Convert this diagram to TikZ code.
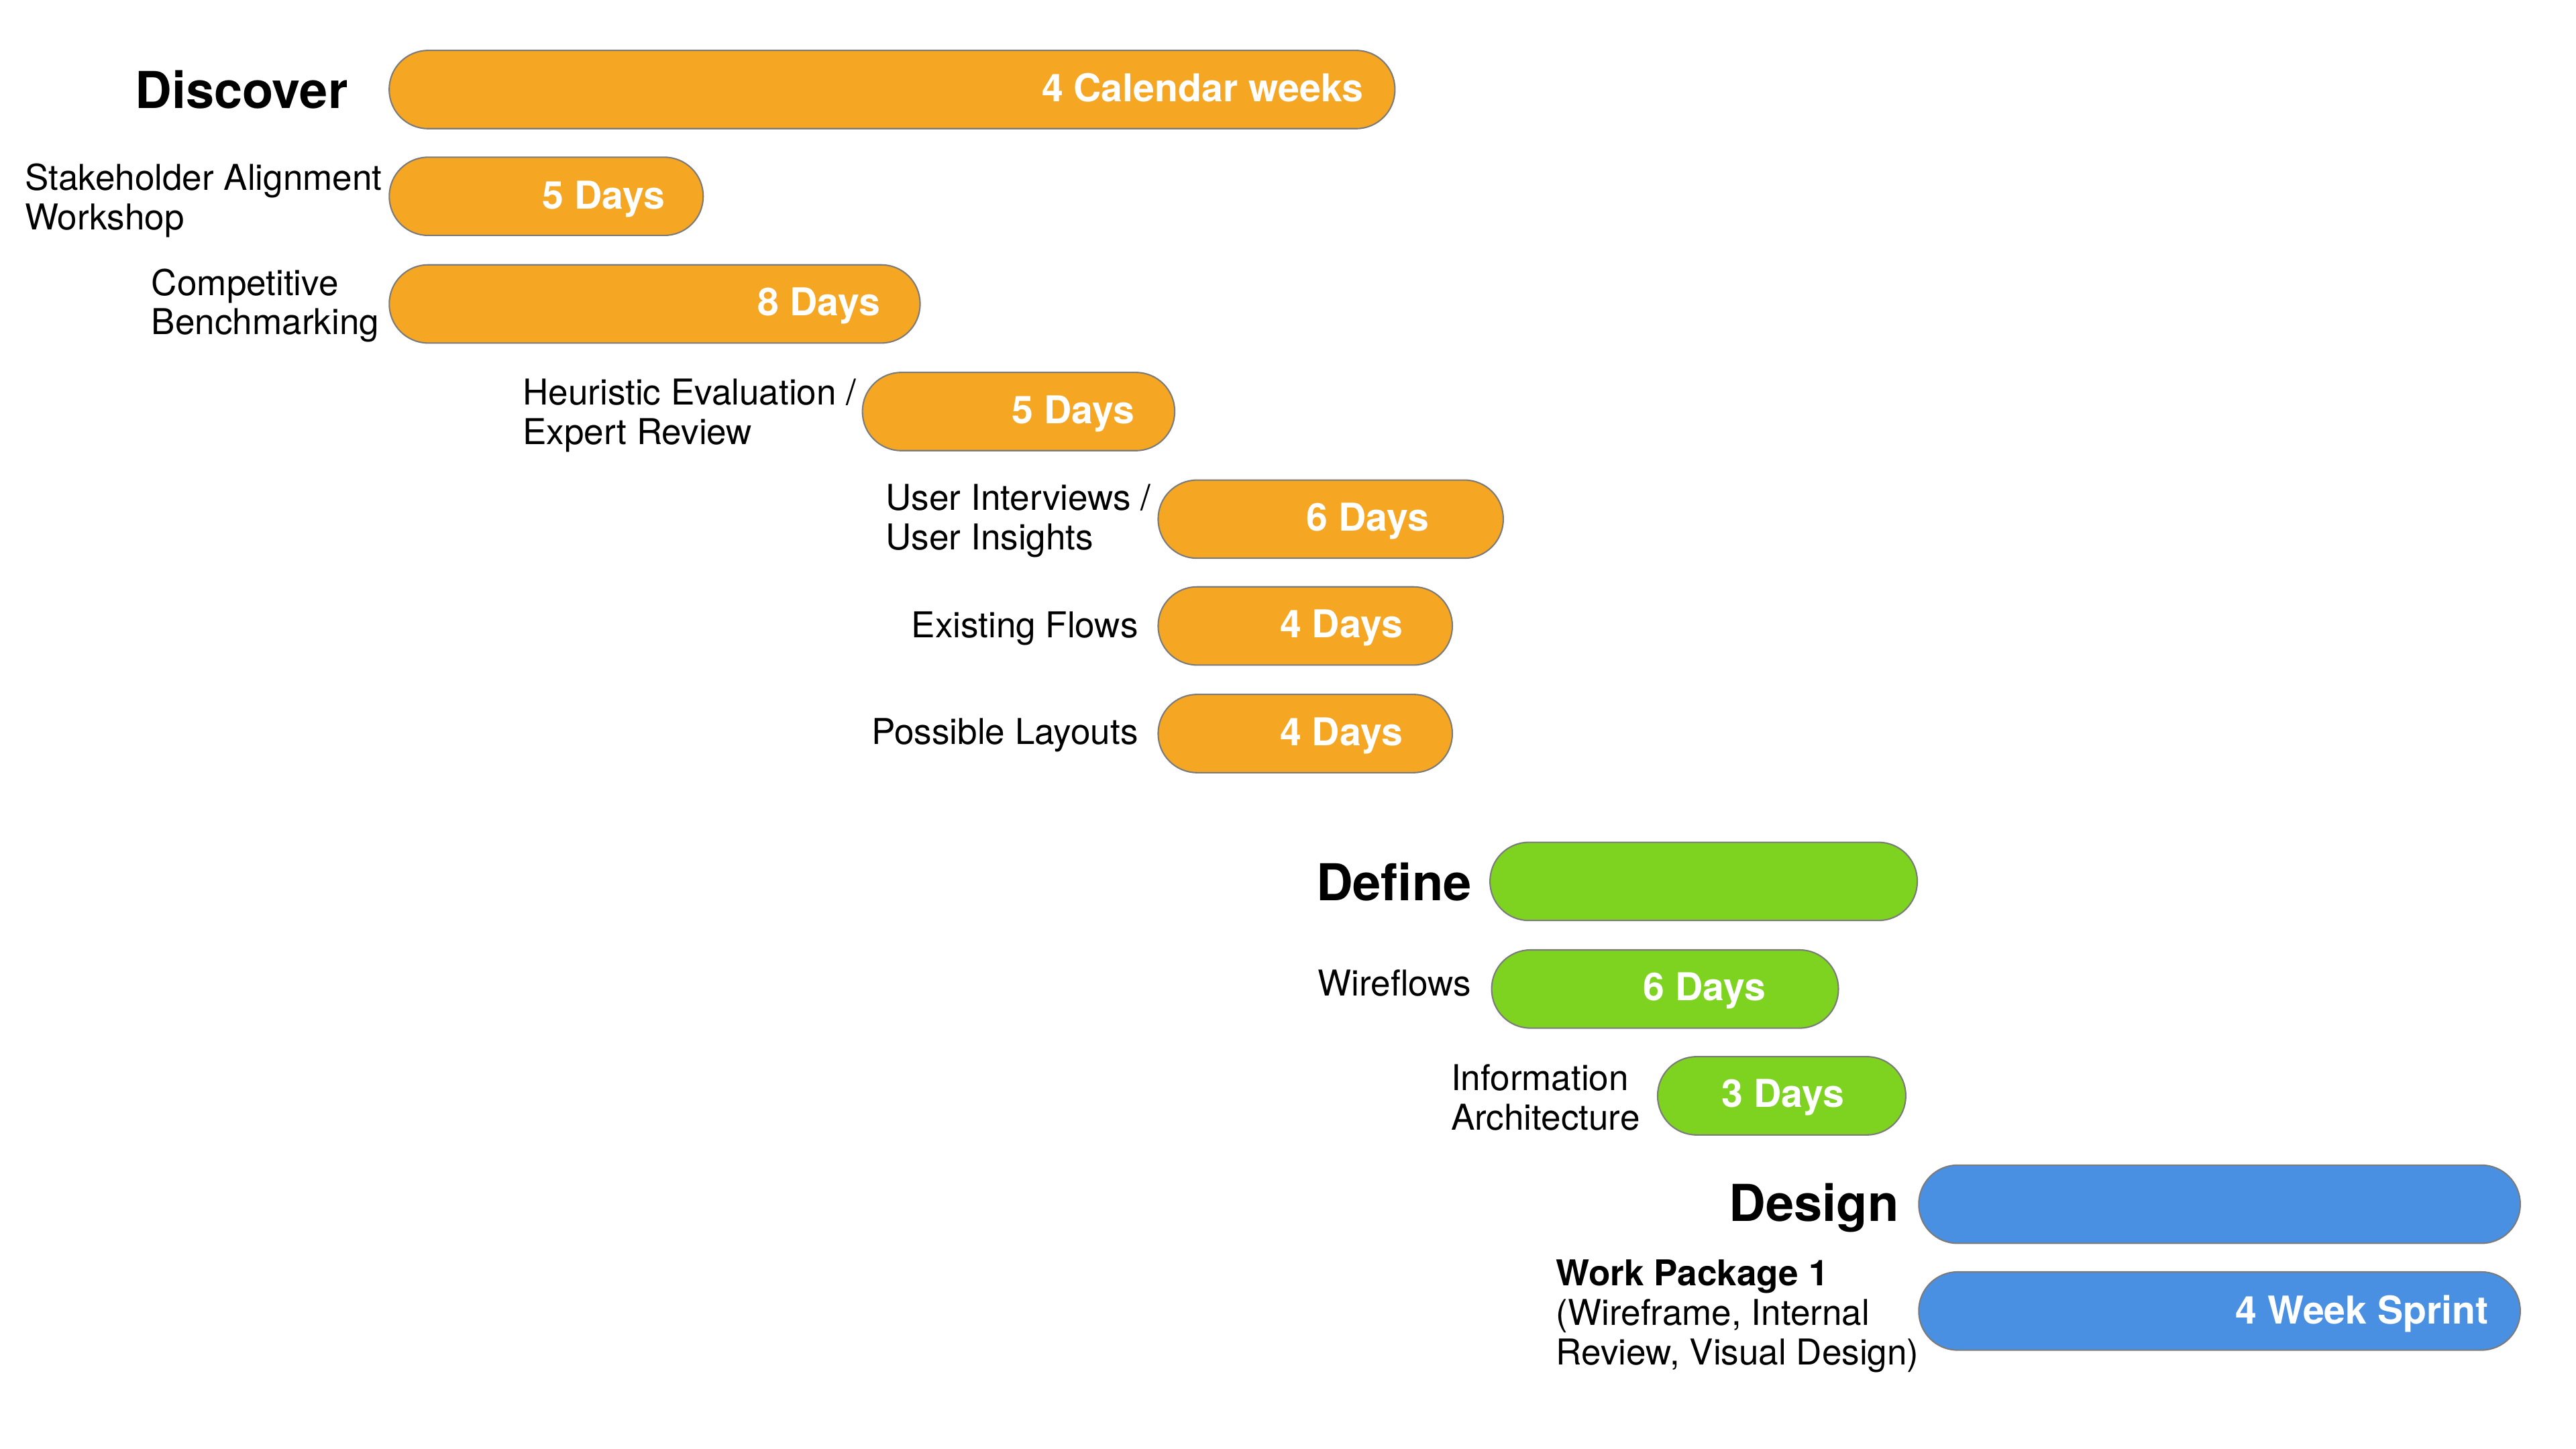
\documentclass[tikz,border=0pt]{standalone}
\usepackage{fontspec}
\setmainfont{TeX Gyre Heros}
\usetikzlibrary{positioning}
\definecolor{discoverorange}{HTML}{F5A623}
\definecolor{definegreen}{HTML}{7ED321}
\definecolor{designblue}{HTML}{4A90E2}
\definecolor{barline}{HTML}{7A7A7A}

\begin{document}
\begin{tikzpicture}[x=0.025cm, y=-0.025cm,
	bar/.style={draw=barline, line width=0.6pt, rounded corners=0.59cm, minimum height=1.19cm, inner sep=0pt},
	days/.style={text=white, font=\fontsize{16.6}{19}\selectfont\bfseries, inner sep=0pt, anchor=base east},
	phase/.style={font=\fontsize{22}{25}\selectfont\bfseries, inner sep=0pt, anchor=base east},
	task/.style={font=\fontsize{15.4}{17.1}\selectfont, inner sep=0pt, align=left}]
\useasboundingbox (0,0) rectangle (1568,882);

		\node[bar, fill=discoverorange, minimum width=15.3cm] (discover) at (543,54.5){};
		\node[bar, fill=discoverorange, minimum width=4.775cm] (stakeholder) at (332.5,119.5){};
		\node[bar, fill=discoverorange, minimum width=8.075cm] (benchmark) at (398.5,185){};
		\node[bar, fill=discoverorange, minimum width=4.75cm] (heuristic) at (620,250.5){};
		\node[bar, fill=discoverorange, minimum width=5.25cm] (interviews) at (810,316){};
		\node[bar, fill=discoverorange, minimum width=4.475cm] (flows) at (794.5,381){};
		\node[bar, fill=discoverorange, minimum width=4.475cm] (layouts) at (794.5,446.5){};
		\node[bar, fill=definegreen, minimum width=6.5cm] (define) at (1037,536.5){};
		\node[bar, fill=definegreen, minimum width=5.275cm] (wireflows) at (1013.5,602){};
		\node[bar, fill=definegreen, minimum width=3.775cm] (infoarch) at (1084.5,667){};
		\node[bar, fill=designblue, minimum width=9.15cm] (design) at (1351,733){};
		\node[bar, fill=designblue, minimum width=9.15cm] (workpackage) at (1351,798){};

	\node[days] (discover-time) at (830,62){4 Calendar weeks};
	\node[days] (stakeholder-time) at (405,127){5 Days};
	\node[days] (benchmark-time) at (536,192){8 Days};
	\node[days] (heuristic-time) at (691,258){5 Days};
	\node[days] (interviews-time) at (870,323){6 Days};
	\node[days] (flows-time) at (854,388){4 Days};
	\node[days] (layouts-time) at (854,454){4 Days};
	\node[days] (wireflows-time) at (1075,609){6 Days};
	\node[days] (infoarch-time) at (1123,674){3 Days};
	\node[days] (workpackage-time) at (1515,806){4 Week Sprint};

	\node[phase] (discover-label) at (212,66){Discover};
	\node[phase] (define-label) at (896,548){Define};
	\node[phase] (design-label) at (1156,743.5){Design};

	\node[task, anchor=west] (stakeholder-label) at (15,122){Stakeholder Alignment\\Workshop};
	\node[task, anchor=west] (benchmark-label) at (92,186){Competitive\\Benchmarking};
	\node[task, anchor=west] (heuristic-label) at (318,253){Heuristic Evaluation /\\Expert Review};
	\node[task, anchor=west] (interviews-label) at (539,317){User Interviews /\\User Insights};
	\node[task, anchor=base east] (flows-label) at (693,388){Existing Flows};
	\node[task, anchor=base east] (layouts-label) at (693,453){Possible Layouts};
	\node[task, anchor=base west] (wireflows-label) at (802,606){Wireflows};
	\node[task, anchor=west] (infoarch-label) at (883,668){Information\\Architecture};
	\node[task, anchor=west] (workpackage-label) at (947,801){{\bfseries Work Package 1}\\(Wireframe, Internal\\Review, Visual Design)};
\end{tikzpicture}
\end{document}
